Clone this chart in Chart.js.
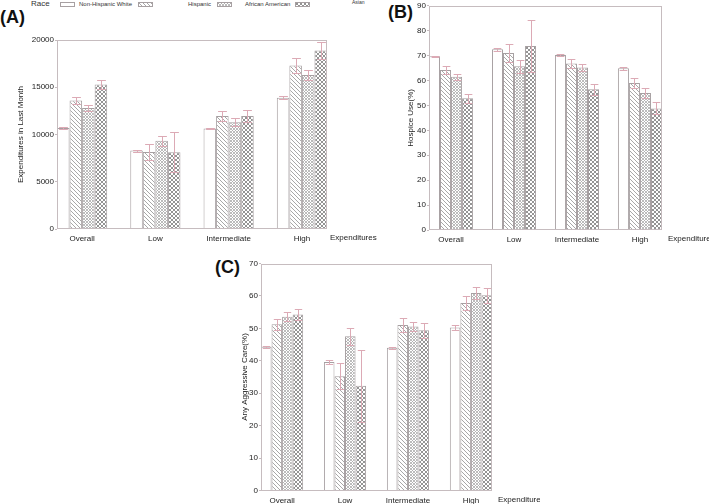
<!DOCTYPE html>
<html>
<head>
<meta charset="utf-8">
<script src="https://cdn.jsdelivr.net/npm/chart.js@4.4.1/dist/chart.umd.min.js"></script>
<style>
    body { margin: 0; background: #fff; width: 709px; height: 504px; position: relative; overflow: hidden; font-family: "Liberation Sans", Arial, sans-serif; }
    canvas.panel { position: absolute; }
    .tag { position: absolute; font-weight: bold; font-size: 18px; line-height: 1; color: #111; }
    .lg { position: absolute; font-size: 6px; line-height: 1; color: #333; white-space: nowrap; }
    .sw { position: absolute; }
</style>
</head>
<body>
<div class="tag" style="left:0px;top:8px">(A)</div>
<div class="tag" style="left:388px;top:3px">(B)</div>
<div class="tag" style="left:215px;top:258px">(C)</div>

<div class="lg" style="left:31px;top:0px;font-size:8px">Race</div>
<canvas class="sw" id="sw0" width="15" height="5" style="left:60px;top:2px"></canvas>
<div class="lg" style="left:79px;top:1px">Non-Hispanic White</div>
<canvas class="sw" id="sw1" width="15" height="5" style="left:138px;top:2px"></canvas>
<div class="lg" style="left:188px;top:1px">Hispanic</div>
<canvas class="sw" id="sw2" width="15" height="5" style="left:217px;top:2px"></canvas>
<div class="lg" style="left:245px;top:1px">African American</div>
<canvas class="sw" id="sw3" width="15" height="5" style="left:295px;top:2px"></canvas>
<div class="lg" style="left:352px;top:0px;font-size:5px">Asian</div>

<canvas class="panel" id="chartA" width="380" height="250" style="left:0px;top:0px"></canvas>
<canvas class="panel" id="chartB" width="354" height="250" style="left:355px;top:0px"></canvas>
<canvas class="panel" id="chartC" width="360" height="254" style="left:180px;top:250px"></canvas>

<script>
// Categories and series
const categories = ['Overall', 'Low', 'Intermediate', 'High'];
const races = ['Non-Hispanic White', 'Hispanic', 'African American', 'Asian'];

// (A) Expenditures in last month, one row per race
const expenditureMeans = [
    [10700, 8300, 10640, 13900],
    [13600, 8150, 11950, 17300],
    [12800, 9330, 11300, 16300],
    [15300, 8130, 11950, 18900]
];
const expenditureErrors = [
    [100, 100, 100, 150],
    [350, 850, 560, 750],
    [300, 500, 420, 500],
    [500, 2150, 670, 900]
];

// (B) Hospice use (%)
const hospiceMeans = [
    [69.7, 72.6, 70.2, 64.9],
    [64.2, 71.1, 66.8, 59.0],
    [61.5, 65.7, 65.2, 55.0],
    [52.9, 73.9, 56.5, 48.8]
];
const hospiceErrors = [
    [0.3, 0.6, 0.4, 0.7],
    [1.5, 3.7, 1.8, 2.1],
    [1.3, 2.6, 1.3, 1.9],
    [1.8, 10.5, 2.2, 2.4]
];

// (C) Any aggressive care (%)
const aggressiveMeans = [
    [44.3, 39.6, 44.0, 50.3],
    [51.3, 35.2, 51.0, 57.8],
    [53.6, 47.6, 50.6, 60.9],
    [54.3, 32.3, 49.4, 60.2]
];
const aggressiveErrors = [
    [0.3, 0.5, 0.3, 0.8],
    [1.7, 4.0, 2.2, 2.2],
    [1.3, 2.6, 1.4, 1.7],
    [1.8, 11.1, 2.3, 2.3]
];

const FONT = '"Liberation Sans", Arial, sans-serif';
const FRAME = '#c6bcbf';
const EDGE = '#a7a0a2';
const ERR = '#dcaab5';

// hatch fills: blank, diagonal, fine cross, dark cross
function makeFill(kind) {
    if (kind === 0) return '#ffffff';
    const size = kind === 2 ? 3 : 4;
    const c = document.createElement('canvas');
    c.width = size; c.height = size;
    const g = c.getContext('2d');
    g.fillStyle = '#fff';
    g.fillRect(0, 0, size, size);
    g.strokeStyle = kind === 1 ? '#929292' : (kind === 2 ? '#ababab' : '#888888');
    g.lineWidth = kind === 3 ? 0.9 : 0.8;
    g.beginPath();
    g.moveTo(-1, -1); g.lineTo(size + 1, size + 1);
    if (kind !== 1) {
        g.moveTo(size + 1, -1); g.lineTo(-1, size + 1);
    }
    g.stroke();
    return g.createPattern(c, 'repeat');
}
const fills = [0, 1, 2, 3].map(makeFill);

// legend swatches
fills.forEach((f, i) => {
    const sw = document.getElementById('sw' + i);
    if (!sw) return;
    const g = sw.getContext('2d');
    g.fillStyle = f;
    g.fillRect(0, 0, 15, 5);
    g.strokeStyle = EDGE;
    g.strokeRect(0.5, 0.5, 14, 4);
});

const errorBars = {
    id: 'errorBars',
    afterDatasetsDraw(chart) {
        const ctx = chart.ctx;
        const y = chart.scales.y;
        chart.data.datasets.forEach((ds, i) => {
            chart.getDatasetMeta(i).data.forEach((bar, j) => {
                const v = ds.data[j].y;
                const e = ds.errors[j];
                const top = Math.round(y.getPixelForValue(v + e)) + 0.5;
                const bot = Math.round(y.getPixelForValue(v - e)) + 0.5;
                const x = Math.round(bar.x) + 0.5;
                const half = bar.width * 0.35;
                ctx.save();
                ctx.strokeStyle = ERR;
                ctx.lineWidth = 1;
                ctx.beginPath();
                ctx.moveTo(x, top); ctx.lineTo(x, bot);
                ctx.moveTo(x - half, top); ctx.lineTo(x + half, top);
                ctx.moveTo(x - half, bot); ctx.lineTo(x + half, bot);
                ctx.stroke();
                ctx.restore();
            });
        });
    }
};

const frame = {
    id: 'frame',
    afterDraw(chart) {
        const { ctx, chartArea: a } = chart;
        ctx.save();
        ctx.strokeStyle = FRAME;
        ctx.lineWidth = 1;
        ctx.strokeRect(Math.round(a.left) + 0.5, Math.round(a.top) + 0.5,
            Math.round(a.right - a.left) - 1, Math.round(a.bottom - a.top) - 1);
        ctx.fillStyle = '#222';
        ctx.font = '8px ' + FONT;
        ctx.textAlign = 'left';
        ctx.textBaseline = 'middle';
        ctx.fillText('Expenditures', a.right + chart.options.plugins.frame.gap, a.bottom + 9);
        ctx.restore();
    }
};

function makePanel(id, means, errors, yTitle, yMax, yStep, cfg) {
    const f = cfg.group;
    new Chart(document.getElementById(id), {
        type: 'bar',
        data: {
            datasets: races.map((race, r) => ({
                label: race,
                data: means[r].map((v, i) => ({ x: i, y: v })),
                errors: errors[r],
                backgroundColor: fills[r],
                borderColor: EDGE,
                borderWidth: 1,
                categoryPercentage: f,
                barPercentage: 1
            }))
        },
        options: {
            responsive: false,
            animation: false,
            layout: { padding: { top: cfg.top, right: cfg.right, left: 0, bottom: 0 } },
            plugins: {
                legend: { display: false },
                tooltip: { enabled: false },
                frame: { gap: cfg.gap }
            },
            scales: {
                x: {
                    type: 'linear',
                    min: -f / 2,
                    max: 3 + f / 2,
                    offset: false,
                    grid: { display: false, drawTicks: false },
                    border: { display: false },
                    ticks: {
                        stepSize: 1,
                        includeBounds: false,
                        autoSkip: false,
                        maxRotation: 0,
                        padding: 5,
                        color: '#222',
                        font: { family: FONT, size: 8 },
                        callback: v => categories[v] ?? ''
                    },
                    afterFit: s => { s.height = cfg.xh; }
                },
                y: {
                    min: 0,
                    max: yMax,
                    grid: { drawOnChartArea: false, drawTicks: true, tickLength: 2, color: FRAME },
                    border: { display: false },
                    ticks: {
                        stepSize: yStep,
                        padding: 1,
                        color: '#222',
                        font: { family: FONT, size: 8 },
                        callback: v => String(v)
                    },
                    title: {
                        display: true,
                        text: yTitle,
                        color: '#222',
                        font: { family: FONT, size: 8, lineHeight: 1 },
                        padding: { top: cfg.tp, bottom: 0 }
                    },
                    afterFit: s => { s.width = cfg.yw; }
                }
            }
        },
        plugins: [errorBars, frame]
    });
}

makePanel('chartA', expenditureMeans, expenditureErrors, 'Expenditures in Last Month', 20000, 5000,
    { group: 0.685, top: 40, right: 53, xh: 21, yw: 57, tp: 17, gap: 3 });
makePanel('chartB', hospiceMeans, hospiceErrors, 'Hospice Use(%)', 90, 10,
    { group: 0.70, top: 3, right: 47, xh: 20, yw: 74, tp: 51.5, gap: 6 });
makePanel('chartC', aggressiveMeans, aggressiveErrors, 'Any Aggressive Care(%)', 70, 10,
    { group: 0.67, top: 13.5, right: 48, xh: 13.5, yw: 81, tp: 60.5, gap: 6 });
</script>
</body>
</html>
